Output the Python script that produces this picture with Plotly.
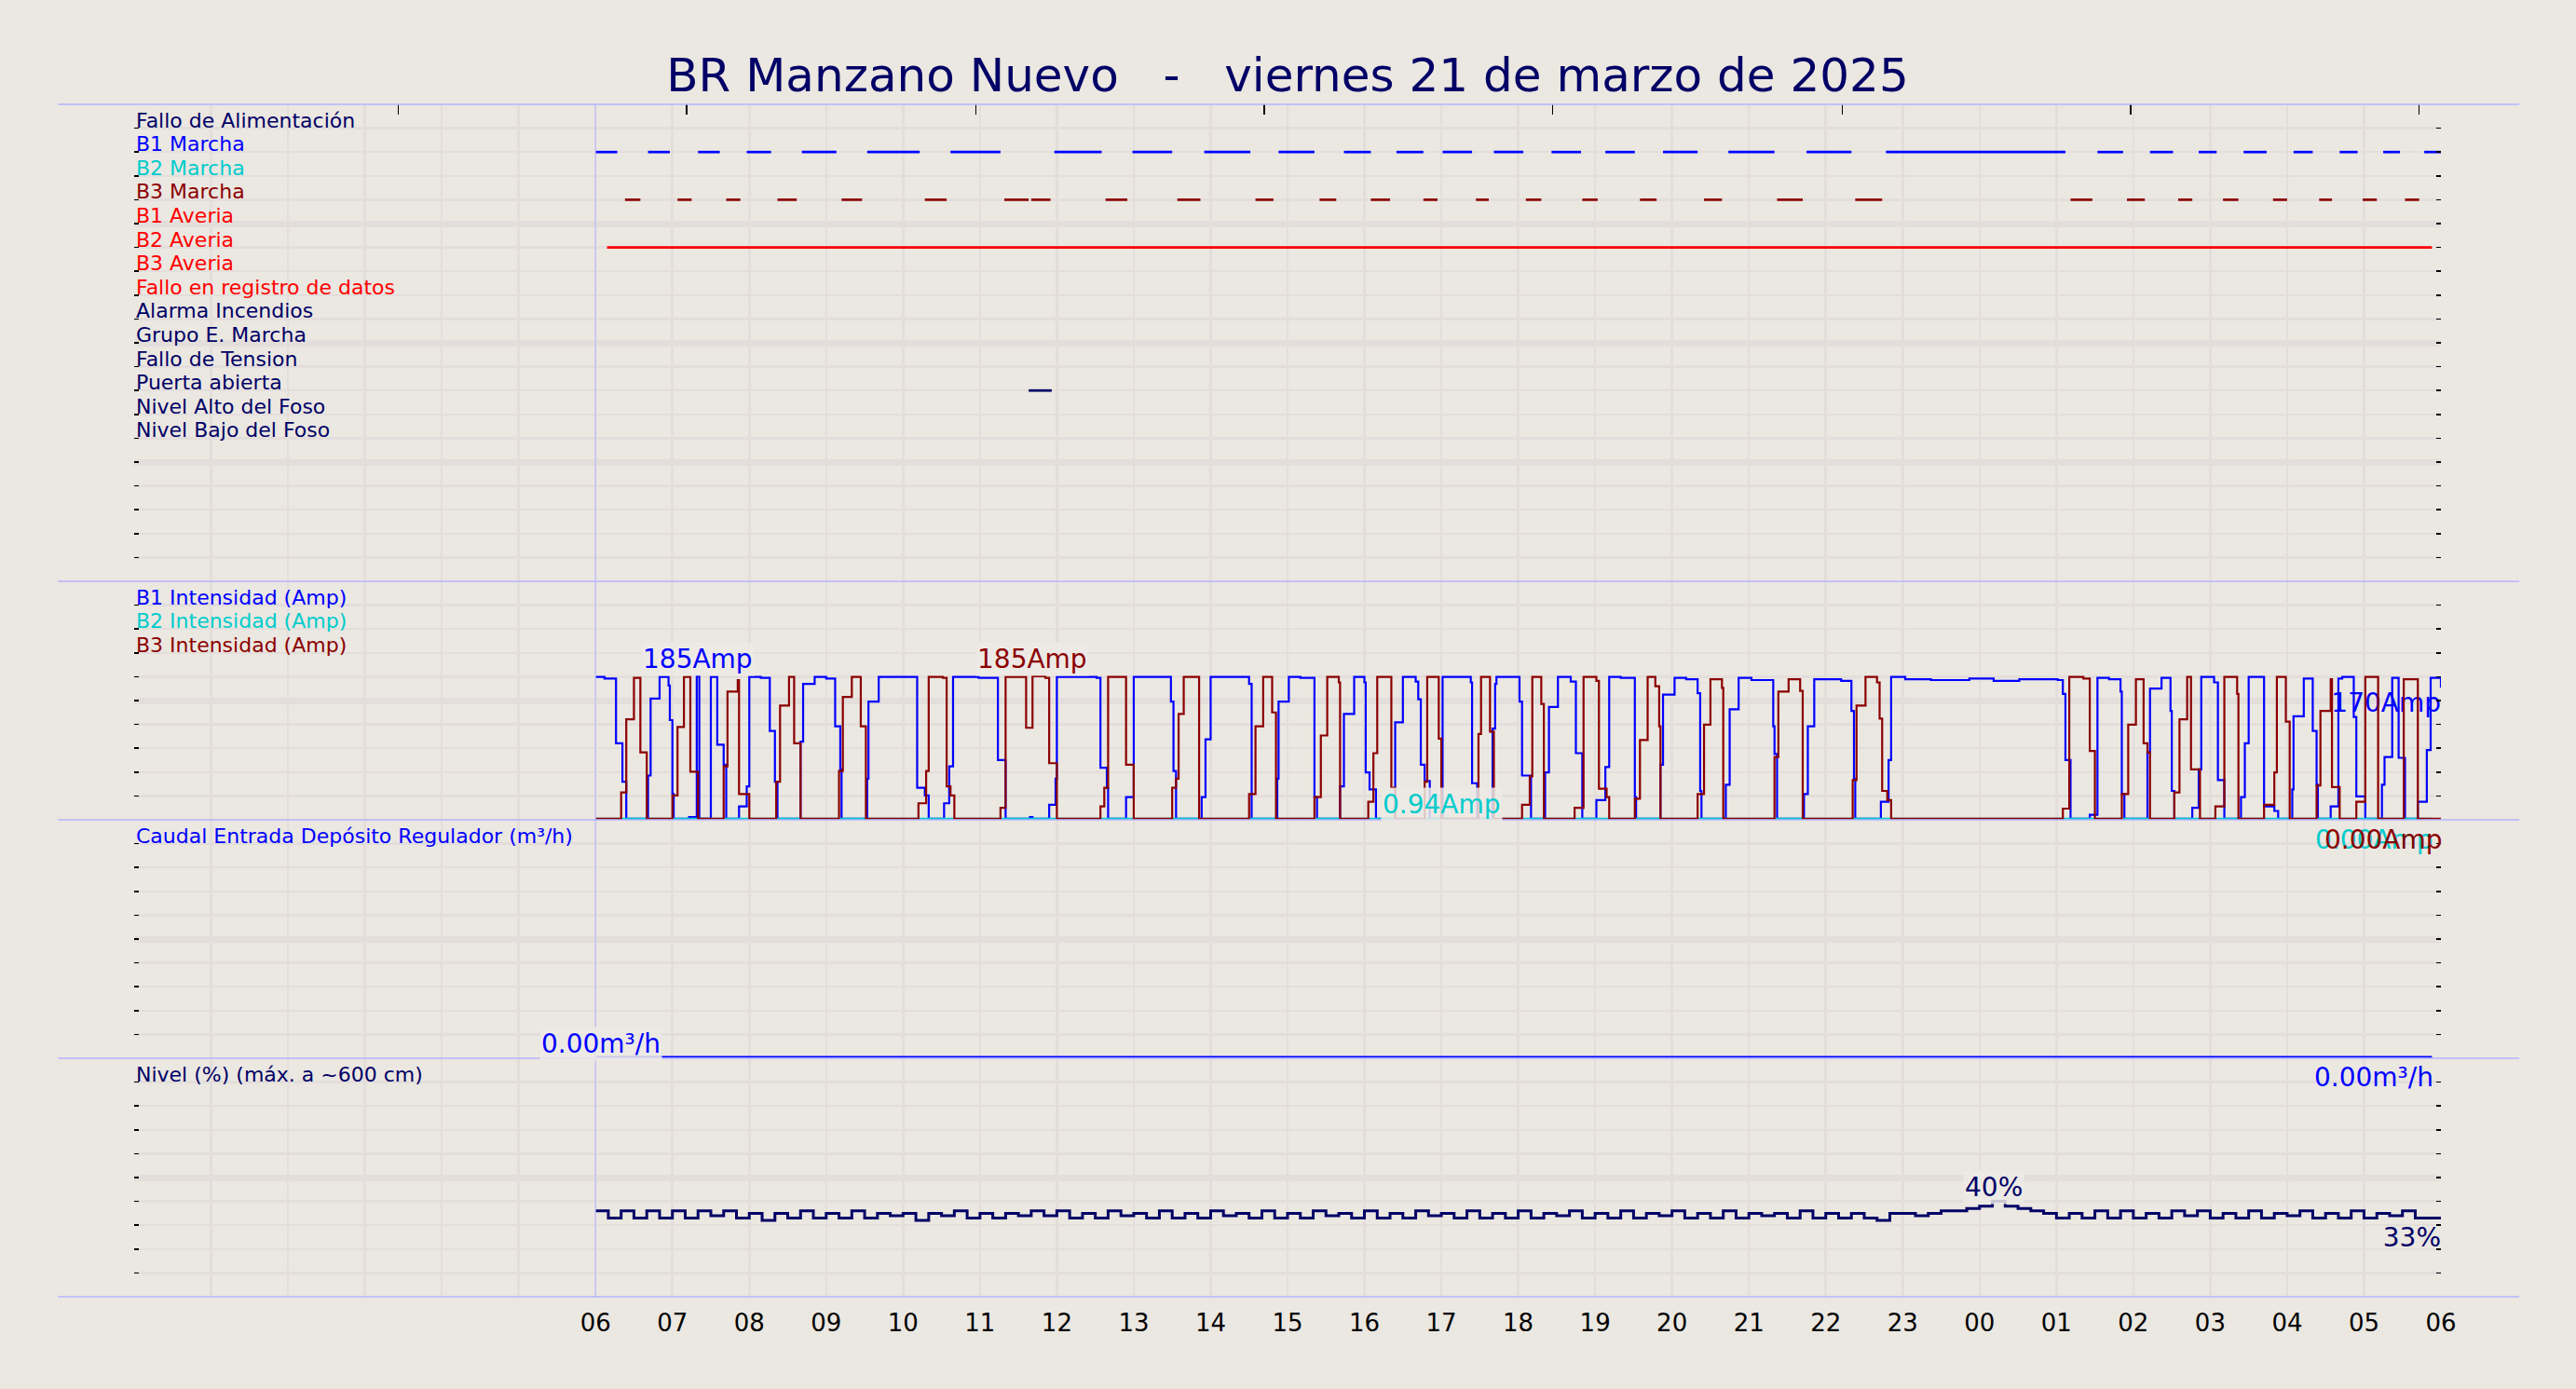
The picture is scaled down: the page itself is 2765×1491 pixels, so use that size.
import plotly.graph_objects as go
from datetime import datetime, timedelta

BASE = datetime(2025, 3, 21)


def ts(s):
    # "HH:MM" counted from 00:00 of 21-03-2025 (HH may go past 24)
    h, m = s.split(":")
    return BASE + timedelta(hours=int(h), minutes=int(m))


# ------------------------------------------------------------------ data
title_text = "BR Manzano Nuevo\u00a0\u00a0\u00a0-\u00a0\u00a0\u00a0viernes 21 de marzo de 2025"

hour_labels = ["06", "07", "08", "09", "10", "11", "12", "13", "14", "15", "16", "17",
               "18", "19", "20", "21", "22", "23", "00", "01", "02", "03", "04", "05", "06"]
hour_ticks = ["06:00", "07:00", "08:00", "09:00", "10:00", "11:00", "12:00", "13:00",
              "14:00", "15:00", "16:00", "17:00", "18:00", "19:00", "20:00", "21:00",
              "22:00", "23:00", "24:00", "25:00", "26:00", "27:00", "28:00", "29:00", "30:00"]
top_ticks = ["03:26", "07:11", "10:57", "14:42", "18:27", "22:13", "25:58", "29:43"]

signal_labels = ["Fallo de Alimentación", "B1 Marcha", "B2 Marcha", "B3 Marcha",
                 "B1 Averia", "B2 Averia", "B3 Averia", "Fallo en registro de datos",
                 "Alarma Incendios", "Grupo E. Marcha", "Fallo de Tension",
                 "Puerta abierta", "Nivel Alto del Foso", "Nivel Bajo del Foso"]

b1_marcha_on = ["06:00", "06:41", "07:20", "07:58", "08:41", "09:32", "10:37", "11:58",
                "12:59", "13:55", "14:53", "15:44", "16:25", "17:01", "17:41", "18:26",
                "19:08", "19:53", "20:44", "21:45", "22:47", "25:32", "26:13", "26:51",
                "27:26", "28:05", "28:41", "29:15", "29:47"]
b1_marcha_off = ["06:17", "06:58", "07:37", "08:17", "09:08", "10:13", "11:16", "12:35",
                 "13:30", "14:31", "15:21", "16:05", "16:46", "17:24", "18:04", "18:49",
                 "19:31", "20:20", "21:20", "22:20", "25:07", "25:52", "26:31", "27:05",
                 "27:44", "28:20", "28:55", "29:28", "30:00"]
b3_marcha_on = ["06:23", "07:04", "07:42", "08:22", "09:12", "10:17", "11:19", "11:40",
                "12:38", "13:34", "14:35", "15:25", "16:05", "16:46", "17:27", "18:06",
                "18:50", "19:35", "20:25", "21:22", "22:23", "25:11", "25:55", "26:35",
                "27:10", "27:49", "28:25", "28:59", "29:32"]
b3_marcha_off = ["06:35", "07:15", "07:53", "08:37", "09:28", "10:34", "11:38", "11:55",
                 "12:55", "13:52", "14:49", "15:38", "16:20", "16:57", "17:37", "18:18",
                 "19:02", "19:48", "20:39", "21:42", "22:44", "25:28", "26:09", "26:46",
                 "27:22", "28:00", "28:35", "29:10", "29:43"]
b2_averia_on = ["06:09"]
b2_averia_off = ["29:53"]
puerta_on = ["11:38"]
puerta_off = ["11:56"]

b1_t = ["06:00", "06:07", "06:16", "06:21", "06:24", "06:41", "06:43", "06:50", "06:57", "06:58",
        "07:00", "07:01", "07:13", "07:19", "07:21", "07:30", "07:35", "07:40", "07:42", "07:52",
        "07:58", "08:00", "08:09", "08:16", "08:20", "08:22", "08:40", "08:42", "08:51", "09:00",
        "09:07", "09:11", "09:12", "09:32", "09:33", "09:41", "10:11", "10:17", "10:20", "10:32",
        "10:36", "10:39", "10:59", "11:14", "11:20", "11:39", "11:41", "11:54", "11:59", "12:00",
        "12:31", "12:34", "12:39", "12:40", "12:54", "13:00", "13:29", "13:31", "13:33", "13:53",
        "13:56", "14:00", "14:30", "14:32", "14:52", "14:53", "15:01", "15:10", "15:21", "15:23",
        "15:41", "15:44", "15:52", "16:00", "16:01", "16:04", "16:09", "16:24", "16:30", "16:40",
        "16:42", "16:44", "16:47", "16:51", "17:01", "17:23", "17:24", "17:28", "17:40", "17:42",
        "17:43", "18:01", "18:03", "18:10", "18:21", "18:24", "18:31", "18:41", "18:45", "18:50",
        "19:01", "19:08", "19:11", "19:20", "19:31", "19:32", "19:51", "19:53", "20:02", "20:11",
        "20:20", "20:22", "20:23", "20:42", "20:45", "20:52", "21:02", "21:19", "21:20", "21:22",
        "21:43", "21:46", "21:51", "22:12", "22:20", "22:22", "22:23", "22:43", "22:49", "22:51",
        "23:02", "23:22", "23:52", "24:11", "24:31", "25:01", "25:05", "25:07", "25:11", "25:26",
        "25:32", "25:41", "25:50", "25:51", "25:53", "26:11", "26:13", "26:22", "26:29", "26:30",
        "26:32", "26:46", "26:51", "26:53", "27:03", "27:06", "27:11", "27:24", "27:27", "27:30",
        "27:42", "27:50", "27:53", "28:04", "28:05", "28:13", "28:20", "28:23", "28:24", "28:34",
        "28:40", "28:43", "28:52", "28:54", "29:01", "29:14", "29:16", "29:22", "29:27", "29:32",
        "29:42", "29:49", "29:52", "30:00"]
b1_v = [184, 182, 98, 48, 0, 56, 156, 184, 173, 128,
        32, 0, 2, 185, 0, 184, 96, 70, 0, 16,
        42, 184, 183, 114, 48, 0, 100, 175, 184, 182,
        120, 64, 0, 52, 152, 184, 40, 30, 0, 20,
        68, 184, 183, 76, 0, 2, 0, 18, 52, 184,
        183, 66, 40, 0, 28, 184, 152, 62, 0, 28,
        103, 184, 175, 0, 52, 152, 184, 183, 28, 0,
        42, 136, 184, 177, 60, 38, 0, 125, 184, 178,
        155, 70, 49, 0, 184, 177, 46, 0, 117, 175,
        184, 152, 56, 0, 60, 145, 184, 178, 85, 0,
        24, 67, 184, 183, 28, 0, 70, 161, 183, 181,
        163, 36, 0, 44, 142, 183, 180, 120, 84, 0,
        32, 120, 181, 179, 140, 52, 0, 22, 76, 184,
        181, 180, 182, 179, 181, 180, 162, 76, 0, 5,
        183, 181, 165, 32, 0, 86, 169, 183, 140, 36,
        0, 14, 64, 184, 177, 50, 0, 28, 98, 184,
        16, 10, 0, 38, 133, 182, 114, 44, 0, 16,
        182, 184, 132, 29, 0, 44, 80, 183, 79, 0,
        22, 89, 183, 170]

b2_t = ["06:00", "17:00", "17:05", "29:52"]
b2_v = [0, 0.94, 0, 0]

b3_t = ["06:00", "06:20", "06:24", "06:30", "06:35", "06:40", "07:00", "07:04", "07:09", "07:14",
        "07:20", "07:40", "07:43", "07:51", "07:52", "08:00", "08:21", "08:24", "08:31", "08:35",
        "08:40", "09:10", "09:13", "09:20", "09:27", "09:31", "10:12", "10:18", "10:20", "10:31",
        "10:34", "10:37", "10:40", "11:16", "11:20", "11:36", "11:41", "11:51", "11:54", "12:00",
        "12:34", "12:37", "12:40", "12:51", "12:54", "13:00", "13:30", "13:33", "13:35", "13:39",
        "13:51", "14:30", "14:35", "14:41", "14:48", "14:51", "15:21", "15:26", "15:31", "15:40",
        "15:41", "16:03", "16:07", "16:10", "16:21", "16:24", "16:47", "16:49", "16:58", "17:00",
        "17:29", "17:31", "17:38", "17:41", "18:03", "18:09", "18:11", "18:18", "18:20", "18:44",
        "18:51", "19:01", "19:03", "19:09", "19:11", "19:31", "19:35", "19:41", "19:47", "19:50",
        "19:51", "20:20", "20:25", "20:30", "20:39", "20:40", "21:20", "21:23", "21:31", "21:40",
        "21:42", "22:21", "22:24", "22:31", "22:40", "22:42", "22:44", "22:48", "22:51", "25:05",
        "25:10", "25:21", "25:26", "25:30", "25:51", "25:56", "26:02", "26:08", "26:11", "26:13",
        "26:32", "26:36", "26:42", "26:45", "26:52", "27:04", "27:11", "27:21", "27:22", "27:42",
        "27:50", "27:52", "27:59", "28:02", "28:23", "28:26", "28:34", "28:35", "28:41", "28:54",
        "29:01", "29:11", "29:31", "29:42", "30:00"]
b3_v = [0, 34, 129, 183, 86, 0, 30, 119, 184, 61,
        0, 68, 165, 180, 32, 0, 48, 147, 184, 98,
        0, 62, 158, 184, 120, 0, 20, 62, 184, 183,
        42, 30, 0, 14, 184, 118, 185, 183, 72, 0,
        16, 40, 184, 184, 70, 0, 40, 52, 136, 184,
        0, 32, 120, 184, 138, 0, 28, 108, 184, 177,
        0, 22, 85, 184, 40, 0, 48, 184, 104, 0,
        110, 184, 113, 0, 18, 55, 184, 149, 0, 14,
        184, 179, 39, 28, 0, 26, 102, 184, 172, 120,
        0, 32, 122, 181, 170, 0, 80, 165, 181, 166,
        0, 50, 147, 184, 177, 130, 36, 24, 0, 13,
        184, 182, 88, 0, 32, 122, 181, 98, 86, 0,
        34, 129, 184, 64, 0, 16, 184, 162, 0, 18,
        60, 184, 126, 0, 43, 140, 181, 41, 0, 22,
        184, 0, 181, 0, 0]

flow_t = ["06:00", "29:53"]
flow_v = [0.0, 0.0]

level_start = "06:00"
level_step_min = 10
level_v = [36, 33, 36, 33, 36, 33,
           36, 33, 36, 34, 36, 33,
           35, 32, 35, 33, 36, 33,
           35, 33, 36, 33, 35, 34,
           35, 32, 35, 34, 36, 33,
           35, 33, 35, 34, 36, 34,
           36, 33, 35, 33, 36, 34,
           35, 33, 36, 33, 35, 33,
           36, 34, 35, 33, 36, 33,
           35, 33, 36, 34, 35, 33,
           36, 33, 35, 33, 36, 34,
           35, 33, 36, 33, 35, 33,
           36, 33, 35, 34, 36, 33,
           35, 33, 36, 33, 35, 34,
           36, 33, 35, 33, 36, 33,
           35, 34, 35, 33, 36, 33,
           35, 33, 35, 33, 32, 35,
           35, 34, 35, 36, 36, 37,
           38, 40, 38, 37, 36, 35,
           33, 35, 33, 36, 33, 36,
           33, 35, 33, 36, 34, 36,
           33, 35, 33, 36, 33, 35,
           34, 36, 33, 35, 33, 36,
           33, 35, 34, 36, 33, 33,
           33]

# ------------------------------------------------------------------ style
BG = "#ebe7e1"
GRID = "#e3dedb"
SEP = "#b4b4ff"
NAVY = "#000066"
BLUE = "#0000ff"
CYAN = "#00cccc"
DRED = "#8b0000"
RED = "#ff0000"
FONT = "DejaVu Sans"
LABEL_SIZE = 22
VALUE_SIZE = 28
PANEL_PX = 256.0
label_colors = [NAVY, BLUE, CYAN, DRED, RED, RED, RED, RED, NAVY, NAVY, NAVY, NAVY, NAVY, NAVY]

I_LO, I_HI = -1.5, 308.3
F_LO, F_HI = -0.06, 10.0
L_LO, L_HI = 0.0, 100.0

# ------------------------------------------------------------------ build
level_x = [ts(level_start) + timedelta(minutes=level_step_min * i) for i in range(len(level_v))]
b1x = [ts(t) for t in b1_t]
b2x = [ts(t) for t in b2_t]
b3x = [ts(t) for t in b3_t]
fx = [ts(t) for t in flow_t]
i_span = I_HI - I_LO
f_span = F_HI - F_LO
l_span = L_HI - L_LO

fig = go.Figure()


def segments(starts, ends, row):
    xs, ys = [], []
    for a, b in zip(starts, ends):
        xs += [ts(a), ts(b), None]
        ys += [row, row, None]
    return xs, ys


for starts, ends, row, col in [(b1_marcha_on, b1_marcha_off, 2, BLUE),
                               (b3_marcha_on, b3_marcha_off, 4, DRED),
                               (b2_averia_on, b2_averia_off, 6, RED),
                               (puerta_on, puerta_off, 12, NAVY)]:
    xs, ys = segments(starts, ends, row)
    fig.add_trace(go.Scatter(x=xs, y=ys, mode="lines", line=dict(color=col, width=2.7),
                             xaxis="x", yaxis="y", hoverinfo="skip"))

# dummy for the top tick axis
fig.add_trace(go.Scatter(x=[ts("06:00")], y=[19], mode="markers", marker=dict(opacity=0),
                         xaxis="x2", yaxis="y", hoverinfo="skip"))


def end_label(x, y, txt, col, ax, span, drop_px):
    # label below-left of the last point (drawn beneath the lines)
    fig.add_trace(go.Scatter(x=[x], y=[y - drop_px * span / PANEL_PX], mode="text", text=[txt],
                             textposition="bottom left",
                             textfont=dict(family=FONT, size=VALUE_SIZE, color=col),
                             cliponaxis=False, xaxis="x", yaxis=ax, hoverinfo="skip"))


end_label(b1x[-1], b1_v[-1], f"{b1_v[-1]:.0f}Amp", BLUE, "y2", i_span, 5)
end_label(level_x[-1], level_v[-1], f"{level_v[-1]:.0f}%", NAVY, "y4", l_span, 9)

fig.add_trace(go.Scatter(x=b1x, y=b1_v, mode="lines", line=dict(color=BLUE, width=2.2, shape="hv"),
                         xaxis="x", yaxis="y2", hoverinfo="skip"))
fig.add_trace(go.Scatter(x=b2x, y=b2_v, mode="lines", line=dict(color=CYAN, width=2.2, shape="hv"),
                         xaxis="x", yaxis="y2", hoverinfo="skip"))
fig.add_trace(go.Scatter(x=b3x, y=b3_v, mode="lines", line=dict(color=DRED, width=2.2, shape="hv"),
                         xaxis="x", yaxis="y2", hoverinfo="skip"))
fig.add_trace(go.Scatter(x=fx, y=flow_v, mode="lines", line=dict(color=BLUE, width=2, shape="hv"),
                         xaxis="x", yaxis="y3", hoverinfo="skip"))
fig.add_trace(go.Scatter(x=level_x, y=level_v, mode="lines", line=dict(color=NAVY, width=3, shape="hv"),
                         xaxis="x", yaxis="y4", hoverinfo="skip"))

annotations = []
for i, (lab, col) in enumerate(zip(signal_labels, label_colors)):
    annotations.append(dict(text=lab, xref="paper", x=0, xanchor="left", yref="y", y=i + 1,
                            yanchor="bottom", yshift=-6, showarrow=False,
                            font=dict(family=FONT, size=LABEL_SIZE, color=col)))
for k, (lab, col) in enumerate([("B1 Intensidad (Amp)", BLUE), ("B2 Intensidad (Amp)", CYAN),
                                ("B3 Intensidad (Amp)", DRED)]):
    annotations.append(dict(text=lab, xref="paper", x=0, xanchor="left", yref="y2",
                            y=I_HI - (k + 1) * i_span / 10, yanchor="bottom", yshift=-6,
                            showarrow=False, font=dict(family=FONT, size=LABEL_SIZE, color=col)))
annotations.append(dict(text="Caudal Entrada Depósito Regulador (m³/h)", xref="paper", x=0,
                        xanchor="left", yref="y3", y=F_HI - f_span / 10, yanchor="bottom",
                        yshift=-6, showarrow=False,
                        font=dict(family=FONT, size=LABEL_SIZE, color=BLUE)))
annotations.append(dict(text="Nivel (%) (máx. a ~600 cm)", xref="paper", x=0, xanchor="left",
                        yref="y4", y=L_HI - l_span / 10, yanchor="bottom", yshift=-6,
                        showarrow=False, font=dict(family=FONT, size=LABEL_SIZE, color=NAVY)))


def last_label(xs, vs, fmt, col, ax, xshift=0, yshift=-4):
    annotations.append(dict(text=fmt.format(vs[-1]), x=xs[-1], y=vs[-1], xref="x", yref=ax,
                            xanchor="right", yanchor="top", xshift=xshift, yshift=yshift,
                            showarrow=False, font=dict(family=FONT, size=VALUE_SIZE, color=col)))


last_label(b2x, b2_v, "{:.2f}Amp", CYAN, "y2", xshift=5)
last_label(b3x, b3_v, "{:.2f}Amp", DRED, "y2", xshift=4)
last_label(fx, flow_v, "{:.2f}m³/h", BLUE, "y3", xshift=4, yshift=-4)


def max_label(xs, vs, fmt, col, ax, dx_min=0, yshift=0):
    m = max(vs)
    i = vs.index(m)
    annotations.append(dict(text=fmt.format(m), x=xs[i] + timedelta(minutes=dx_min), y=m,
                            xref="x", yref=ax, xanchor="center", yanchor="bottom", yshift=yshift,
                            showarrow=False, bgcolor="rgba(237,234,229,0.85)", borderpad=1,
                            font=dict(family=FONT, size=VALUE_SIZE, color=col)))


max_label(b1x, b1_v, "{:.0f}Amp", BLUE, "y2", dx_min=1, yshift=0)
max_label(b3x, b3_v, "{:.0f}Amp", DRED, "y2", dx_min=0, yshift=0)
max_label(b2x, b2_v, "{:.2f}Amp", CYAN, "y2", dx_min=0, yshift=-4)
max_label(fx, flow_v, "{:.2f}m³/h", BLUE, "y3", dx_min=4, yshift=-5)
max_label(level_x, level_v, "{:.0f}%", NAVY, "y4", dx_min=1, yshift=-3)

shapes = []
for yp in [0.0, 0.2, 0.4, 0.6, 1.0]:
    shapes.append(dict(type="line", xref="paper", yref="paper", x0=-0.033, x1=1.034, y0=yp, y1=yp,
                       line=dict(color=SEP, width=1.5), layer="above"))
shapes.append(dict(type="line", xref="x", yref="paper", x0=ts("06:00"), x1=ts("06:00"), y0=0, y1=1,
                   line=dict(color=SEP, width=1), layer="above"))

grid_common = dict(showgrid=True, gridcolor=GRID, zeroline=False, showticklabels=False,
                   ticks="inside", ticklen=5, tickwidth=1.5, tickcolor="black", mirror="ticks",
                   showline=False)


def yax(domain, rng, span_major, span_minor, t0):
    d = dict(grid_common)
    d.update(domain=domain, range=rng, tick0=t0, dtick=span_major, gridwidth=7, anchor="x",
             minor=dict(dtick=span_minor, tick0=t0, showgrid=True, gridcolor=GRID, gridwidth=2.5,
                        ticks="inside", ticklen=5, tickwidth=1.5, tickcolor="black"))
    return d


fig.update_layout(
    width=2765, height=1491,
    paper_bgcolor=BG, plot_bgcolor=BG,
    margin=dict(l=144, r=145, t=112, b=99, autoexpand=False),
    showlegend=False,
    hovermode=False,
    font=dict(family=FONT, color="black"),
    title=dict(text=title_text, x=0.5, xanchor="center", xref="paper", y=1 - 80 / 1491,
               yanchor="middle", yref="container", font=dict(family=FONT, size=50, color=NAVY)),
    xaxis=dict(type="date", range=[ts("00:00"), ts("30:00")], domain=[0, 1], anchor="y4",
               tickmode="array", tickvals=[ts(t) for t in hour_ticks], ticktext=hour_labels,
               ticks="", tickfont=dict(family=FONT, size=26, color="black"), ticklabelstandoff=10,
               showgrid=True, gridcolor=GRID, gridwidth=2.5, zeroline=False, showline=False,
               minor=dict(dtick=3600000, tick0=ts("00:00"), showgrid=True, gridcolor=GRID,
                          gridwidth=2.5)),
    xaxis2=dict(type="date", range=[ts("00:00"), ts("30:00")], overlaying="x", side="top",
                anchor="y", tickmode="array", tickvals=[ts(t) for t in top_ticks],
                ticks="inside", ticklen=11, tickwidth=1.5, tickcolor="black",
                showticklabels=False, showgrid=False, zeroline=False, showline=False),
    yaxis=yax([0.6, 1.0], [20, 0], 5, 1, 0),
    yaxis2=yax([0.4, 0.6], [I_LO, I_HI], i_span / 2, i_span / 10, I_LO),
    yaxis3=yax([0.2, 0.4], [F_LO, F_HI], f_span / 2, f_span / 10, F_LO),
    yaxis4=yax([0.0, 0.2], [L_LO, L_HI], 50, 10, 0),
    annotations=annotations,
    shapes=shapes,
)

fig.write_html("out.html", config={"displayModeBar": False, "staticPlot": True},
               post_script="document.body.style.margin='0';document.body.style.overflow='hidden';"
                           "document.body.style.background='" + BG + "';")
